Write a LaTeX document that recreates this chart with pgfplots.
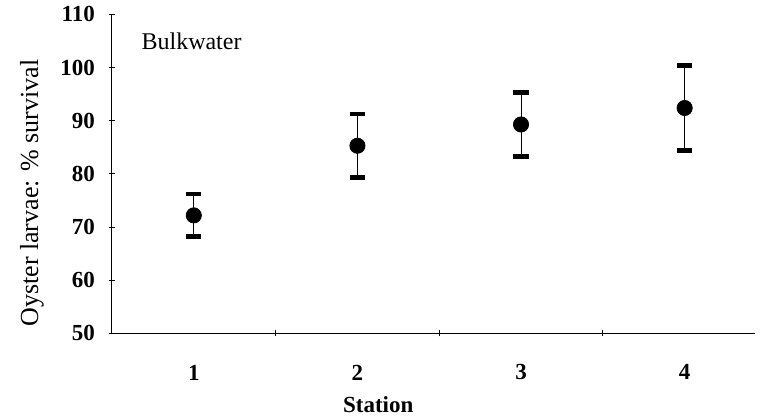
\documentclass[border=0pt]{standalone}
\usepackage{pgfplots}
\pgfplotsset{compat=1.18}
\usepackage{fontspec}
\setmainfont{Liberation Serif}
\begin{document}
\begin{tikzpicture}
\begin{axis}[
  scale only axis,
  width=321.5pt, height=159.5pt,
  xmin=0.5, xmax=4.43,
  ymin=50, ymax=110,
  axis x line=bottom, axis y line=left,
  axis line style={-, line width=0.5pt},
  xtick={1.5,2.5,3.5},
  xticklabels={},
  extra x ticks={1,2,3,4},
  extra x tick labels={1,2,3,4},
  extra x tick style={major tick length=0pt},
  ytick={50,60,...,110},
  major tick length=3pt,
  tick align=center,
  tick style={line width=0.5pt, black},
  /pgf/number format/assume math mode=true,
  tick label style={font=\fontsize{11.5}{13}\selectfont\bfseries},
  xticklabel style={anchor=center, yshift=-19.5pt},
  yticklabel style={xshift=-3.5pt},
  xlabel={Station},
  xlabel style={font=\fontsize{11.5}{13}\selectfont\bfseries, at={(rel axis cs:0.414,0)}, anchor=center, yshift=-35.5pt},
  ylabel={Oyster larvae: \% survival},
  ylabel style={font=\fontsize{13}{15}\selectfont, at={(rel axis cs:0,0.44)}, anchor=center, inner sep=0pt, yshift=40pt},
  clip=false,
]
\addplot[only marks, mark=*, mark size=3.8pt, black,
  error bars/.cd, y dir=both, y explicit,
  error bar style={line width=0.5pt, black},
  error mark options={rotate=90, mark size=3.8pt, line width=2.3pt, black}]
  coordinates {
    (1,72.2) +- (0,4.0)
    (2,85.3) +- (0,6.0)
    (3,89.3) +- (0,6.0)
    (4,92.4) +- (0,8.0)
  };
\node[anchor=west, font=\fontsize{12}{14}\selectfont] at (rel axis cs:0.035,0.915) {Bulkwater};
\end{axis}
% white margins on both sides of the figure
\path ([xshift=-56pt]current axis.south west) -- ([xshift=3pt]current axis.north east);
\end{tikzpicture}
\end{document}
